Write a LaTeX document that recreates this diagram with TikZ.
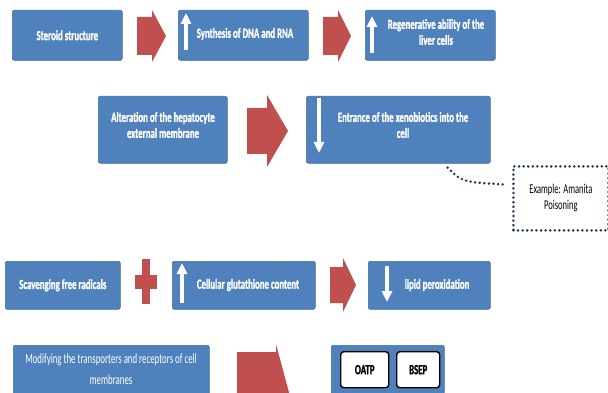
\documentclass[tikz,border=0pt]{standalone}
\usepackage{fontspec}
\setmainfont{Carlito}[FakeStretch=0.63, BoldFeatures={FakeBold=1.2}]
\usetikzlibrary{arrows.meta,calc}
\definecolor{bxblue}{HTML}{4F81BD}
\definecolor{bxedge}{HTML}{41719C}
\definecolor{arred}{HTML}{C0504D}
\definecolor{dotnavy}{HTML}{1F3864}
\begin{document}
\begin{tikzpicture}[x=1pt,y=-1pt,
  bluebox/.style={fill=bxblue, draw=bxedge, line width=0.6pt, rounded corners=2pt, inner sep=0pt, anchor=north west},
  wtxt/.style={text=white, font=\bfseries\fontsize{14}{16}\selectfont, align=center, inner sep=0pt},
  wtxtlight/.style={text=white, font=\fontsize{14}{21.5}\selectfont, align=center, inner sep=0pt},
  btxt/.style={text=black, font=\fontsize{13.5}{16}\selectfont, align=center, inner sep=0pt},
  tagbox/.style={fill=white, draw=black, line width=1.4pt, rounded corners=3pt, inner sep=0pt, anchor=north west, font=\bfseries\fontsize{14}{16}\selectfont},
  dotline/.style={draw=dotnavy, line width=2.8pt, dash pattern=on 0pt off 4.6pt, line cap=round},
  redarr/.style={fill=arred},
  whitearr/.style={draw=white, line width=3.6pt, -{Triangle[width=10pt,length=11pt]}}
]
\useasboundingbox (0,0) rectangle (608,393);
\clip (0,0) rectangle (608,393);
\fill[white] (0,0) rectangle (608,393);

% Row 1
\node[bluebox, minimum width=110, minimum height=50] (b1) at (12,10) {};
\node[wtxt] (t1) at (b1.center) {Steroid structure};
\fill[redarr] (137,17) -- (152,17) -- (152,10) -- (166,36) -- (152,62) -- (152,55) -- (137,55) -- cycle;
\node[bluebox, minimum width=130, minimum height=50] (b2) at (178,10) {};
\node[wtxt] (t2) at (245,34) {Synthesis of DNA and RNA};
\draw[whitearr] (186,50) -- (186,13);
\fill[redarr] (323,17) -- (338,17) -- (338,10) -- (351,36) -- (338,62) -- (338,55) -- (323,55) -- cycle;
\node[bluebox, minimum width=130, minimum height=50] (b3) at (365,10) {};
\node[wtxt] (t3) at (436,32) {Regenerative ability of the\\liver cells};
\draw[whitearr] (372,53) -- (372,16);

% Row 2
\node[bluebox, minimum width=129, minimum height=67] (b4) at (98,96) {};
\node[wtxt] (t4) at (163,125) {Alteration of the hepatocyte\\external membrane};
\fill[redarr] (247,108) -- (267,108) -- (267,95) -- (288,131) -- (267,167) -- (267,154) -- (247,154) -- cycle;
\node[bluebox, minimum width=184, minimum height=67] (b5) at (306,96) {};
\node[wtxt] (t5) at (403,125) {Entrance of the xenobiotics into the\\cell};
\draw[whitearr] (319,98) -- (319,153);

% Example box
\node[minimum width=95, minimum height=64, inner sep=0pt, anchor=north west, fill=white, dotline] (ex) at (512,165) {};
\node[btxt] (tex) at (ex.center) {Example: Amanita\\Poisoning};
\draw[dotline] ($(b5.south east)+(-43,4)$) .. controls (462,182) .. ($(ex.west)+(-9,-14)$);

% Row 3
\node[bluebox, minimum width=115, minimum height=48] (b6) at (5,261) {};
\node[wtxt] (t6) at (b6.center) {Scavenging free radicals};
\fill[redarr] (142,259) rectangle (150,304);
\fill[redarr] (135,275) rectangle (157,289);
\node[bluebox, minimum width=143, minimum height=48] (b7) at (172,261) {};
\node[wtxt] (t7) at (248,285) {Cellular glutathione content};
\draw[whitearr] (182,303) -- (182,263);
\fill[redarr] (330,267) -- (343,267) -- (343,258) -- (356,285) -- (343,312) -- (343,303) -- (330,303) -- cycle;
\node[bluebox, minimum width=122, minimum height=48] (b8) at (368,261) {};
\node[wtxt] (t8) at (437,285) {lipid peroxidation};
\draw[whitearr] (387,266) -- (387,302);

% Row 4
\node[bluebox, minimum width=196, minimum height=55] (b9) at (13,345) {};
\node[wtxtlight] (t9) at (111,369) {Modifying the transporters and receptors of cell\\membranes};
\fill[redarr] (237,352) -- (276,352) -- (276,344) -- (291,400) -- (276,456) -- (276,448) -- (237,448) -- cycle;
\node[bluebox, minimum width=113, minimum height=49] (b10) at (331,345) {};
\node[tagbox, minimum width=48, minimum height=36] (oatp) at (340,351) {OATP};
\node[tagbox, minimum width=43, minimum height=36] (bsep) at (396,351) {BSEP};
\end{tikzpicture}
\end{document}
